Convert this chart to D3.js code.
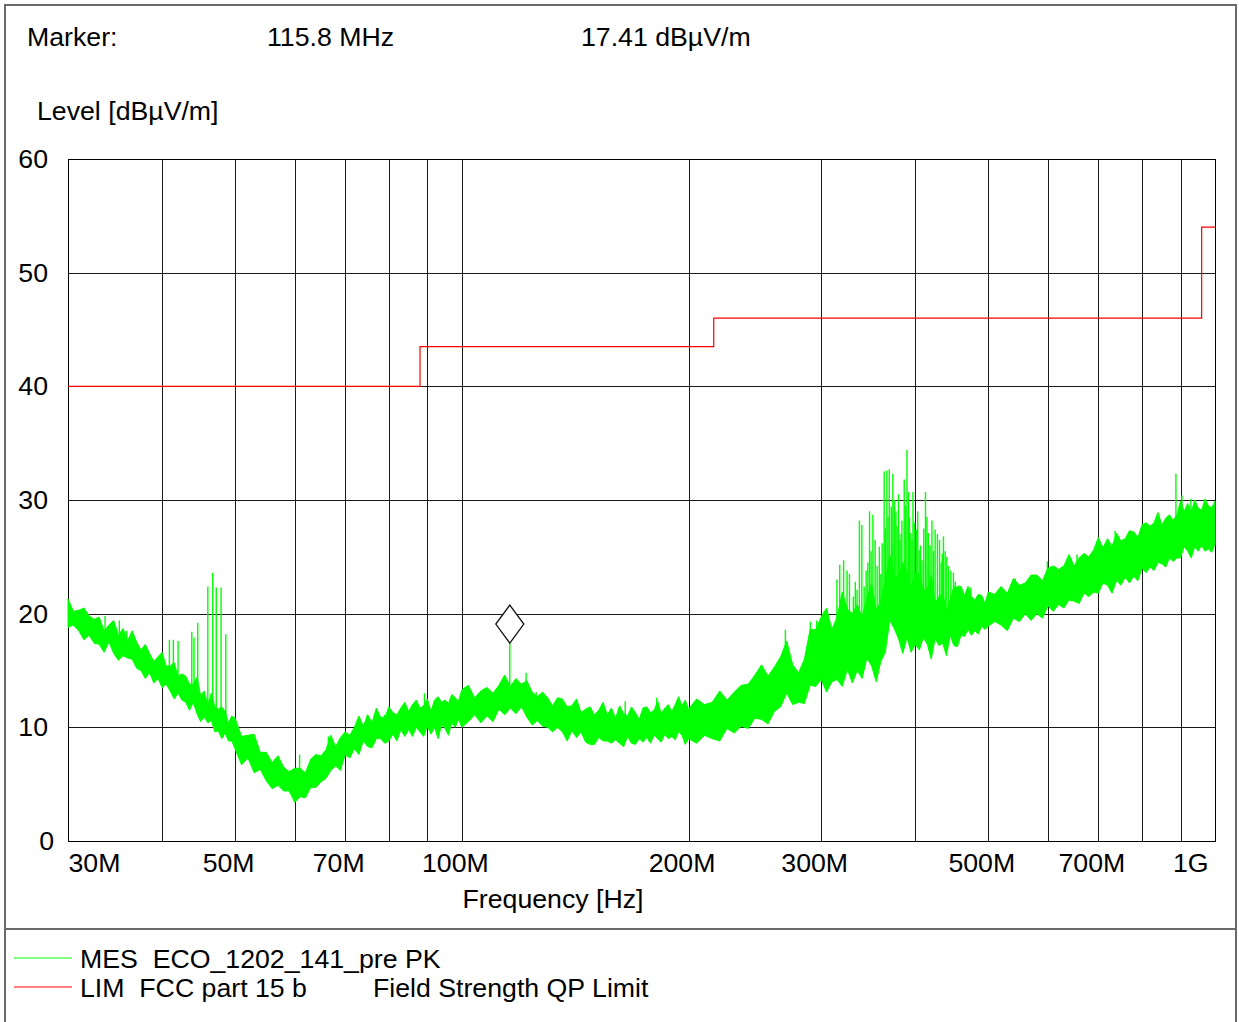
<!DOCTYPE html>
<html>
<head>
<meta charset="utf-8">
<script src="https://cdn.jsdelivr.net/npm/d3@7"></script>
<style>
	body { margin: 0; background: #fff; }
	text { font-family: "Liberation Sans", Arial, sans-serif; font-size: 26.7px; fill: #000; white-space: pre; }
</style>
</head>
<body>
<svg class="chart" width="1239" height="1022"></svg>
<script>

// ---- data (levels in dBuV/m, frequencies in MHz) ----

// sweep grid of the PK scan, in five ranges
var sweepA = d3.range(30, 50.001, 0.5);
var sweepB = d3.range(51, 100.5, 1);
var sweepC = d3.range(102, 200.5, 2);
var sweepD = d3.range(205, 500.5, 5);
var sweepE = d3.range(510, 1000.5, 10);

// lower / upper edge of the noisy PK trace
var lowA = [18.8,19.0,18.5,17.7,18.1,17.4,17.3,16.6,17.5,16.5,15.9,16.3,16.1,16.0,15.2,15.0,14.3,14.8,13.9,14.3,13.5,13.8,13.2,12.5,13.0,12.4,12.2,11.5,12.2,11.2,10.5,10.9,10.4,10.6,9.6,9.7,9.0,9.5,8.8,8.8,8.1];
var highA = [21.3,20.2,20.3,20.5,19.8,19.5,19.7,18.5,19.0,19.4,18.1,18.7,17.6,18.5,17.5,16.8,17.3,16.5,15.8,16.2,16.6,15.4,15.4,15.7,14.5,14.7,14.5,13.8,13.8,14.4,12.8,13.2,12.0,13.0,11.8,11.6,11.8,11.4,10.4,11.0,10.8];
var lowB = [6.7,7.3,6.0,6.3,5.3,4.6,4.9,4.4,4.4,3.4,3.9,3.8,4.7,4.7,5.2,5.5,6.2,6.6,6.2,7.6,7.3,8.1,7.6,8.8,8.3,8.2,9.0,9.0,8.6,8.8,9.4,8.8,9.8,9.2,9.8,9.2,10.0,9.6,9.2,10.1,9.4,10.0,9.0,10.2,9.9,9.3,10.4,10.0,10.7,10.0];
var highB = [9.2,9.3,9.4,7.8,7.8,6.9,7.5,6.5,6.1,6.4,6.4,6.0,7.2,7.6,7.5,8.0,9.3,8.3,9.1,9.6,9.3,10.0,11.0,10.1,11.1,10.4,11.7,10.9,10.8,11.8,11.3,11.1,11.7,12.2,11.4,12.0,12.4,11.7,11.9,12.5,11.4,12.4,12.7,12.2,12.4,12.1,12.9,12.6,12.3,13.3];
var lowC = [10.5,11.1,10.4,11.0,10.5,11.6,11.1,11.7,11.2,11.8,10.9,10.2,10.6,10.1,10.0,9.6,10.0,9.6,8.8,9.7,9.1,9.6,8.7,8.5,8.5,9.1,8.8,8.8,8.6,8.9,8.6,8.3,9.2,8.6,8.5,9.0,8.7,9.1,8.6,9.3,9.0,8.7,9.4,9.0,9.2,8.9,9.6,9.3,8.5,9.0];
var highC = [13.7,12.6,13.2,13.5,13.0,13.7,14.6,13.6,14.3,13.8,14.1,13.1,12.7,13.1,12.6,11.9,12.6,12.5,11.8,11.9,12.5,11.3,11.6,11.8,11.1,11.5,12.2,11.1,11.7,10.8,11.9,11.2,11.0,11.8,11.3,10.7,11.7,11.8,11.3,11.5,12.3,11.2,11.7,12.0,11.4,12.0,12.7,11.9,12.4,11.6];
var lowD = [8.6,9.3,9.0,8.8,9.9,9.5,10.1,9.9,10.8,10.7,10.3,11.4,11.8,13.0,12.0,12.2,12.1,13.7,13.6,14.2,13.1,14.0,14.2,13.6,15.1,13.9,15.0,14.3,16.1,15.4,14.0,15.8,16.6,19.4,18.7,17.8,16.5,17.9,16.6,17.3,16.8,17.9,17.3,16.0,17.8,17.2,17.4,16.3,18.1,17.2,17.1,18.1,18.0,18.6,18.1,18.5,18.2,18.9,18.6,18.9];
var highD = [12.5,12.0,12.2,13.2,12.4,13.1,13.7,13.8,14.6,15.5,14.5,15.3,16.2,17.6,15.5,14.8,16.0,18.6,18.6,19.7,20.5,18.6,19.7,21.9,20.4,20.0,20.8,19.7,21.4,22.6,20.3,21.1,22.9,25.2,23.5,23.1,24.5,23.7,22.2,23.6,23.5,22.1,22.2,23.4,20.9,21.5,21.8,20.2,21.2,22.4,22.3,22.4,21.6,22.4,21.5,21.2,21.7,21.6,20.9,21.9];
var lowE = [19.3,19.0,18.5,19.6,19.3,20.0,19.4,20.0,19.6,20.7,20.2,20.8,20.5,21.2,21.1,20.9,21.8,21.5,21.9,21.8,22.7,22.5,21.8,22.9,22.5,23.2,22.7,23.3,22.9,24.0,23.6,24.1,23.8,24.5,24.4,24.1,24.9,24.6,24.9,24.9,25.9,25.5,24.9,25.9,25.5,26.0,25.5,25.7,25.4,26.1];
var highE = [21.7,22.4,21.8,23.1,22.5,22.7,23.4,23.4,22.9,24.0,24.2,23.9,24.2,25.2,24.2,24.9,25.3,25.0,25.6,26.7,25.8,26.6,25.9,27.1,26.4,26.6,27.3,27.2,26.7,27.8,28.0,27.7,28.0,28.9,27.8,28.4,28.7,28.2,28.7,29.9,29.0,29.7,28.9,30.0,29.3,29.1,30.1,29.5,29.3,29.9];

// single narrow peaks standing out of the trace [MHz, dBuV/m]
var peaks = [
	[32.9,19.5],[33.6,19.8],[35.1,19.4],[35.9,18.5],[40.9,17.7],[41.4,17.7],[42.0,17.6],
	[43.8,18.4],[44.1,17.9],[44.6,19.2],[46.0,22.4],[46.7,23.6],[47.2,22.3],[47.9,22.3],[48.6,18.2],
	[60.9,7.6],[66.5,9.2],[74.9,11.1],[78.9,11.1],[89.2,13.0],
	[121.7,14.8],[125.5,13.1],[164.8,12.3],[181.5,12.6],
	[268.9,18.6],[290.2,19.3],[296.0,19.4],[302.8,20.2],
	[314.8,23.0],[317.5,24.3],[321.3,24.7],[324.7,23.8],[327.1,23.5],[331.0,21.5],[333.0,22.8],
	[334.8,22.1],[337.2,28.2],[339.7,27.8],[342.1,22.4],[344.2,23.8],[346.0,24.5],[347.8,29.0],
	[349.5,25.5],[351.4,28.7],[353.8,26.5],[356.0,24.2],[358.4,25.9],[360.0,23.5],[361.5,26.2],
	[363.7,32.5],[365.0,27.5],[366.8,32.6],[368.0,28.5],[369.4,32.7],[371.7,29.4],[372.5,26.0],
	[373.5,32.3],[375.3,30.0],[377.0,29.0],[378.4,27.7],[380.0,30.5],[381.5,26.5],[383.0,27.0],
	[384.0,28.2],[386.7,31.8],[388.5,29.5],[390.0,34.4],[391.9,30.7],[393.0,28.5],[394.6,27.1],
	[396.0,26.5],[397.2,30.7],[399.0,28.0],[401.2,27.4],[403.0,29.0],[404.8,25.6],[406.5,26.0],
	[408.3,24.7],[410.5,27.5],[412.7,30.7],[414.5,28.5],[416.2,27.1],[418.5,26.0],[420.9,28.2],
	[423.0,25.5],[425.0,27.4],[428.0,27.0],[430.8,26.5],[433.0,24.5],[434.4,25.3],[436.0,26.8],
	[438.3,25.5],[440.5,25.0],[442.8,24.2],[446.0,23.8],[449.5,23.6],[452.0,22.8],[456.0,22.5],
	[474.0,22.3],
	[543.0,23.1],[599.0,24.6],[655.8,25.2],[715.0,25.7],[737.0,27.3],[822.0,27.5],
	[887.4,32.3],[903.9,30.4],[929.0,30.1]
];

// FCC part 15 b QP limit, step after each start frequency
var limitFreq = [30, 88, 216, 960, 1000];
var limitLevel = [40, 43.5, 46, 54, 54];

// marker
var markerFreq = 115.8;
var markerLevel = 17.41;

// axes
var gridFreq = [30, 40, 50, 60, 70, 80, 90, 100, 200, 300, 400, 500, 600, 700, 800, 900];
var labelFreq = [30, 50, 70, 100, 200, 300, 500, 700, 1000];
var labelText = ["30M", "50M", "70M", "100M", "200M", "300M", "500M", "700M", "1G"];
var levelTicks = [0, 10, 20, 30, 40, 50, 60];

var legendNames = ["MES  ECO_1202_141_pre PK", "LIM  FCC part 15 b"];
var legendNote = "Field Strength QP Limit";
var legendColors = ["#00ff00", "#ff0000"];

// ---- drawing ----

var svg = d3.select("svg.chart");

var plotLeft = 68, plotRight = 1215, plotTop = 159, plotBottom = 841;

var x = d3.scaleLog().domain([30, 1000]).range([plotLeft, plotRight]);
var y = d3.scaleLinear().domain([0, 60]).range([plotBottom, plotTop]);

// outer frame and legend separator
svg.append("rect")
	.attr("x", 5).attr("y", 5)
	.attr("width", 1231).attr("height", 1040)
	.attr("fill", "none")
	.attr("stroke", "#6a6a6a")
	.attr("stroke-width", 2);
svg.append("line")
	.attr("x1", 5).attr("x2", 1236)
	.attr("y1", 929).attr("y2", 929)
	.attr("stroke", "#6a6a6a")
	.attr("stroke-width", 2);

// header
svg.append("text").attr("x", 27).attr("y", 46).text("Marker:");
svg.append("text").attr("x", 267).attr("y", 46).text(markerFreq.toFixed(1) + " MHz");
svg.append("text").attr("x", 581).attr("y", 46).text(markerLevel.toFixed(2) + " dBµV/m");
svg.append("text").attr("x", 37).attr("y", 120).text("Level [dBµV/m]");

// grid
svg.append("g")
	.attr("class", "xgrid")
	.attr("transform", "translate(0," + plotBottom + ")")
	.call(d3.axisBottom(x).tickValues(gridFreq).tickSize(-(plotBottom - plotTop)).tickFormat(""))
	.call(function(g) { g.select(".domain").remove(); });
svg.append("g")
	.attr("class", "ygrid")
	.attr("transform", "translate(" + plotLeft + ",0)")
	.call(d3.axisLeft(y).tickValues(levelTicks).tickSize(-(plotRight - plotLeft)).tickPadding(20).tickFormat(d3.format("d")))
	.call(function(g) { g.select(".domain").remove(); });
svg.selectAll(".xgrid line, .ygrid line")
	.attr("stroke", "#1a1a1a")
	.attr("shape-rendering", "crispEdges");
svg.selectAll(".ygrid text")
	.attr("font-size", null)
	.attr("font-family", null)
	.attr("dx", function(d) { return d === 0 ? 6 : 0; });

svg.append("rect")
	.attr("x", plotLeft).attr("y", plotTop)
	.attr("width", plotRight - plotLeft).attr("height", plotBottom - plotTop)
	.attr("fill", "none")
	.attr("stroke", "#000")
	.attr("shape-rendering", "crispEdges");

// frequency labels
var xLabels = svg.append("g")
	.attr("class", "xlabels")
	.attr("transform", "translate(0," + plotBottom + ")")
	.call(d3.axisBottom(x).tickValues(labelFreq).tickSize(0).tickPadding(12)
		.tickFormat(function(d, i) { return labelText[i]; }))
	.call(function(g) { g.select(".domain").remove(); });
xLabels.selectAll("text")
	.attr("font-size", null)
	.attr("font-family", null)
	.attr("text-anchor", function(d, i) { return i === 0 ? "start" : (i === labelFreq.length - 1 ? "end" : "middle"); })
	.attr("dx", function(d, i) { return i === 0 ? 0 : -7; });

svg.append("text")
	.attr("x", 553).attr("y", 908)
	.attr("text-anchor", "middle")
	.text("Frequency [Hz]");

// measured PK trace
var sweep = sweepA.concat(sweepB, sweepC, sweepD, sweepE);
var lows = lowA.concat(lowB, lowC, lowD, lowE);
var highs = highA.concat(highB, highC, highD, highE);
var trace = sweep.map(function(f, i) { return {f: f, lo: lows[i], hi: highs[i]}; });

var band = d3.area()
	.x(function(d) { return x(d.f); })
	.y0(function(d) { return y(d.lo); })
	.y1(function(d) { return y(d.hi); });

svg.append("path")
	.datum(trace)
	.attr("d", band)
	.attr("fill", "#00ff00")
	.attr("stroke", "#00ff00")
	.attr("stroke-width", 1)
	.attr("stroke-linejoin", "miter");

var nearest = d3.bisector(function(d) { return d.f; }).center;
function baseLevel(f) {
	var d = trace[nearest(trace, f)];
	return (d.lo + d.hi) / 2;
}

svg.append("g")
	.selectAll("line")
	.data(peaks)
	.enter()
	.append("line")
	.attr("x1", function(d) { return x(d[0]); })
	.attr("x2", function(d) { return x(d[0]); })
	.attr("y1", function(d) { return y(baseLevel(d[0])); })
	.attr("y2", function(d) { return y(d[1]); })
	.attr("stroke", "#00ff00")
	.attr("stroke-width", 1.4);

// limit line
var limitPoints = limitFreq.map(function(f, i) { return [f, limitLevel[i]]; });
svg.append("path")
	.datum(limitPoints)
	.attr("d", d3.line()
		.curve(d3.curveStepAfter)
		.x(function(d) { return x(d[0]); })
		.y(function(d) { return y(d[1]); }))
	.attr("fill", "none")
	.attr("stroke", "#ff0000")
	.attr("stroke-width", 1.2);

// marker
var mx = x(markerFreq), my = y(markerLevel);
svg.append("line")
	.attr("x1", mx).attr("x2", mx)
	.attr("y1", y(baseLevel(markerFreq))).attr("y2", my)
	.attr("stroke", "#00ff00")
	.attr("stroke-width", 1.4);
svg.append("path")
	.attr("d", "M" + mx + "," + my + "l-14,-19l14,-19l14,19z")
	.attr("fill", "#fff")
	.attr("stroke", "#111")
	.attr("stroke-width", 1.3);

// legend
var legend = svg.append("g").attr("class", "legend");
legendNames.forEach(function(name, i) {
	var ly = 958 + i * 29;
	legend.append("line")
		.attr("x1", 14).attr("x2", 72)
		.attr("y1", ly).attr("y2", ly)
		.attr("stroke", legendColors[i])
		.attr("stroke-width", 1.2);
	legend.append("text")
		.attr("x", 80).attr("y", ly + 10)
		.text(name);
});
legend.append("text")
	.attr("x", 373).attr("y", 958 + 29 + 10)
	.text(legendNote);

</script>
</body>
</html>
